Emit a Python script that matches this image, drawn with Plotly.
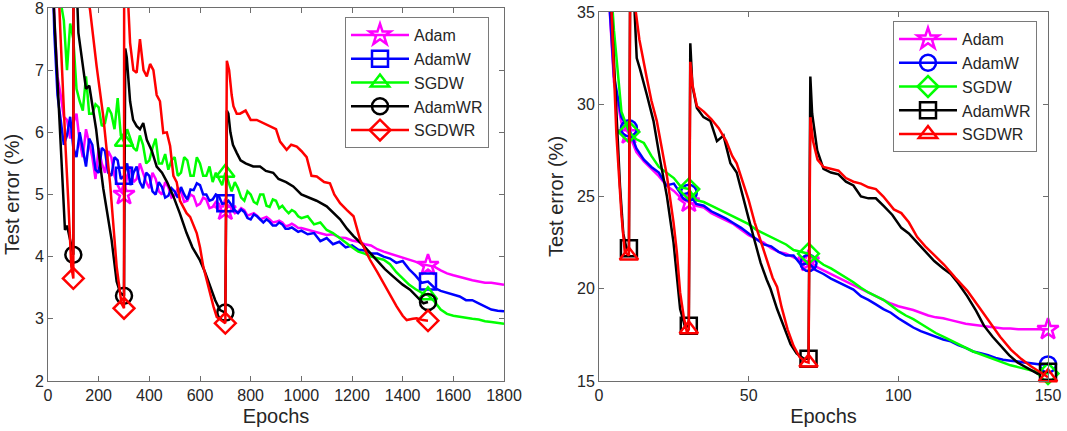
import plotly.graph_objects as go

# ---------------- Left panel data (epochs 0..1800) ----------------
# epochs: every 12.5 up to 987.5, then every 25 up to 1800
EP_L = [i * 12.5 for i in range(80)] + list(range(1000, 1801, 25))
ADAM_L = [15, 10, 7.8, 6.9, 6.6, 6.25, 6.2, 5.9, 6.15, 6.3, 5.85, 5.6, 6.05, 5.8, 5.6, 5.25,
          5.75, 5.5, 5.35, 5.7, 5.6, 5.3, 5.15, 5.05, 5.0, 5.3, 5.45, 5.2, 5.25, 5.5, 5.35, 5.2,
          5.1, 5.35, 5.25, 5.05, 5.0, 5.2, 5.12, 4.95, 4.98, 5.1, 5.05, 4.88, 4.9, 5.0, 4.97, 4.82,
          4.85, 4.95, 4.92, 4.78, 4.8, 4.88, 4.85, 4.72, 4.75, 4.82, 4.78, 4.7, 4.72, 4.78, 4.75,
          4.66, 4.68, 4.7, 4.66, 4.6, 4.62, 4.64, 4.6, 4.55, 4.56, 4.58, 4.55, 4.49, 4.5, 4.53,
          4.5, 4.46,
          4.46, 4.43, 4.41, 4.38, 4.35, 4.36, 4.31, 4.3, 4.26, 4.24, 4.2, 4.18, 4.12, 4.08, 4.05,
          4.02, 3.98, 3.95, 3.92, 3.88, 3.86, 3.84, 3.78, 3.73, 3.7, 3.67, 3.64, 3.62, 3.6, 3.58,
          3.58, 3.56, 3.55]
ADAMW_L = [15, 9.5, 7.6, 6.6, 6.2, 5.8, 5.95, 6.25, 5.75, 5.6, 6.0, 5.7, 5.45, 5.9, 5.8, 5.4,
           5.35, 5.75, 5.7, 5.35, 5.3, 5.6, 5.55, 5.25, 5.3, 5.5, 5.15, 5.35, 5.45, 5.2, 5.1, 5.35,
           5.3, 5.05, 5.0, 5.2, 5.12, 4.95, 4.98, 5.1, 5.05, 4.95, 5.12, 5.0, 4.92, 5.08, 5.07,
           5.18, 5.15, 5.0, 5.0, 4.9, 4.92, 5.0, 4.97, 4.85, 4.86, 4.9, 4.82, 4.75, 4.7, 4.76,
           4.72, 4.62, 4.6, 4.68, 4.65, 4.6, 4.55, 4.6, 4.56, 4.5, 4.5, 4.55, 4.52, 4.45, 4.45,
           4.47, 4.43, 4.4,
           4.42, 4.36, 4.38, 4.25, 4.3, 4.2, 4.24, 4.15, 4.18, 4.11, 4.1, 4.05, 4.05, 4.0, 3.97,
           3.9, 3.93, 3.8, 3.7, 3.58, 3.6, 3.5, 3.45, 3.42, 3.4, 3.36, 3.3, 3.3, 3.25, 3.2, 3.15,
           3.13, 3.12]
SGDW_L = [15, 11, 9.5, 8.6, 8.1, 7.8, 7.0, 7.75, 7.5, 6.7, 6.5, 6.35, 6.9, 6.3, 6.3, 6.45,
          6.4, 6.1, 6.15, 6.4, 6.3, 6.05, 6.55, 5.95, 5.85, 6.05, 5.9, 5.75, 5.7, 5.95, 5.8, 5.5,
          5.55, 5.75, 5.9, 5.5, 5.5, 5.65, 5.4, 5.55, 5.6, 5.3, 5.35, 5.6, 5.55, 5.3, 5.3, 5.6,
          5.5, 5.3, 5.3, 5.45, 5.2, 5.35, 5.25, 5.15, 5.35, 5.2, 5.05, 5.2, 5.1, 4.95, 4.9, 5.05,
          5.0, 4.88, 4.85, 5.0, 5.0, 4.82, 4.8, 4.92, 4.9, 4.78, 4.82, 4.75, 4.7, 4.75, 4.72,
          4.65,
          4.62, 4.65, 4.52, 4.55, 4.43, 4.38, 4.3, 4.22, 4.15, 4.08, 4.05, 4.0, 3.98, 3.95, 3.88,
          3.75, 3.65, 3.55, 3.48, 3.42, 3.38, 3.28, 3.15, 3.08, 3.05, 3.03, 3.02, 3.0, 2.99, 2.96,
          2.95, 2.93, 2.92]

EP_ADAMWR_L = [0, 20, 28, 40, 47, 57, 67, 75, 85, 92, 100, 101, 112, 120, 130, 138, 150, 163, 177,
               190, 204, 218, 232, 251, 271, 285, 300, 305, 311, 324, 336, 350, 363, 376, 390, 410,
               429, 450, 470, 495, 520, 547, 570, 600, 620, 640, 660, 679, 700, 706, 712, 720, 730,
               745, 760, 780, 810, 837, 860, 889, 910, 940, 968, 1000, 1034, 1060, 1100, 1126,
               1153, 1180, 1206, 1240, 1271, 1300, 1330, 1363, 1400, 1429, 1460, 1482, 1500]
ADAMWR_L = [15, 8.3, 7.6, 6.6, 6.0, 5.1, 4.43, 4.5, 4.3, 4.15, 4.03, 12, 8.5, 7.6, 7.3, 7.0,
            6.7, 6.75, 6.35, 6.05, 5.55, 5.1, 4.75, 4.27, 3.6, 3.42, 3.37, 7.35, 7.2, 6.5, 6.2,
            6.1, 6.05, 6.15, 5.88, 5.7, 5.45, 5.35, 5.2, 4.97, 4.7, 4.38, 4.15, 3.94, 3.75, 3.52,
            3.3, 3.14, 3.1, 6.35, 6.3, 6.0, 5.8, 5.67, 5.55, 5.5, 5.45, 5.45, 5.38, 5.35, 5.25,
            5.2, 5.13, 5.0, 4.95, 4.9, 4.81, 4.7, 4.6, 4.45, 4.33, 4.2, 4.06, 3.92, 3.8, 3.68,
            3.55, 3.47, 3.35, 3.25, 3.27]

EP_SGDWR_L = [0, 40, 50, 60, 70, 80, 92, 100, 101, 150, 166, 192, 218, 245, 271, 290, 300, 301,
              315, 324, 337, 350, 363, 377, 390, 403, 416, 429, 442, 455, 469, 482, 495, 508, 521,
              547, 561, 587, 600, 613, 627, 640, 653, 666, 685, 700, 706, 715, 725, 732, 745, 758,
              780, 800, 824, 850, 876, 900, 916, 942, 960, 982, 1000, 1021, 1040, 1061, 1090,
              1113, 1130, 1153, 1180, 1206, 1232, 1271, 1300, 1324, 1350, 1376, 1400, 1416, 1440,
              1455, 1480, 1500]
SGDWR_L = [15, 8.5, 7.5, 6.5, 5.7, 4.9, 3.84, 3.65, 12, 8.3, 7.97, 7.06, 6.26, 5.18, 3.84, 3.25,
           3.17, 12, 8.2, 7.44, 7.0, 6.96, 7.5, 7.0, 6.9, 7.1, 7.0, 6.6, 6.5, 5.99, 6.0, 5.78, 5.3,
           5.2, 4.9, 4.7, 4.64, 4.38, 4.15, 3.84, 3.6, 3.4, 3.2, 3.03, 2.97, 2.93, 7.15, 7.0, 6.6,
           6.42, 6.3, 6.3, 6.35, 6.2, 6.2, 6.15, 6.1, 6.05, 5.85, 5.72, 5.8, 5.77, 5.7, 5.6, 5.3,
           5.29, 5.2, 5.18, 5.0, 4.86, 4.75, 4.65, 4.27, 3.95, 3.75, 3.57, 3.38, 3.2, 3.05, 2.98,
           3.0, 3.01, 2.98, 2.97]
MARK_EP_L = [300, 700, 1500]          # Adam, AdamW, SGDW
MARK_EP_L_WR = [100, 300, 700, 1500]  # AdamWR, SGDWR

# ---------------- Right panel data (epochs 0..150) ----------------
EP_R = [i * 2.5 for i in range(61)]
ADAM_R = [50, 38, 31.2, 29.0, 28.4, 27.4, 26.9, 26.5, 26.1, 25.6, 25.3, 24.9, 24.7, 24.5, 24.4,
          24.1, 23.9, 23.7, 23.5, 23.2, 22.9, 22.7, 22.5, 22.2, 22.0, 21.9, 21.7, 21.5, 21.5, 21.2,
          21.0, 20.8, 20.6, 20.4, 20.2, 20.0, 19.8, 19.6, 19.4, 19.2, 19.05, 18.95, 18.85, 18.7,
          18.55, 18.45, 18.4, 18.3, 18.2, 18.1, 18.05, 18.0, 17.95, 17.9, 17.85, 17.85, 17.8,
          17.8, 17.8, 17.8, 17.8]
ADAMW_R = [50, 38, 31.5, 29.3, 28.7, 27.6, 27.0, 26.6, 26.3, 25.6, 25.7, 25.1, 25.2, 24.6, 24.5,
           24.2, 24.0, 23.8, 23.55, 23.3, 23.0, 22.7, 22.4, 22.3, 22.0, 21.8, 21.8, 21.3, 21.4,
           21.0, 20.8, 20.55, 20.35, 20.15, 19.95, 19.6, 19.4, 19.15, 18.9, 18.7, 18.4, 18.15,
           17.9, 17.7, 17.55, 17.4, 17.25, 17.15, 16.95, 16.8, 16.6, 16.5, 16.4, 16.25, 16.15,
           16.1, 16.05, 16.0, 15.95, 15.9, 15.9]
SGDW_R = [50, 40, 34, 29.6, 28.5, 28.1, 27.9, 27.2, 26.6, 26.3, 26.0, 25.5, 25.4, 24.8, 24.7,
          24.5, 24.3, 24.1, 23.9, 23.7, 23.5, 23.2, 23.0, 22.8, 22.6, 22.4, 22.1, 22.0, 21.9, 21.6,
          21.3, 21.1, 20.85, 20.6, 20.35, 20.05, 19.8, 19.6, 19.4, 19.1, 18.8, 18.55, 18.35, 18.1,
          17.85, 17.6, 17.4, 17.2, 17.0, 16.8, 16.6, 16.45, 16.3, 16.15, 16.0, 15.85, 15.75,
          15.65, 15.55, 15.45, 15.4]

EP_ADAMWR_R = [0, 3, 4.2, 5.9, 7, 8.1, 9.3, 10, 10.5, 12.6, 13.7, 16, 18.2, 20.4, 22.7, 24.9, 26,
               27.1, 28.8, 30, 30.5, 31.2, 32.7, 34.9, 37.2, 39.4, 41.6, 43.9, 46, 48, 50, 52, 54,
               56, 57.3, 59.5, 62, 64, 66, 68.4, 70, 70.6, 71.2, 72.9, 75, 77.5, 80, 82.5, 85,
               87.5, 90, 92.5, 95, 98, 101, 103.5, 106.3, 109, 112, 115, 117.5, 120, 123, 126,
               128.6, 131.5, 134.2, 137, 139.8, 143, 146.5, 150]
ADAMWR_R = [50, 40, 35, 29.2, 25.6, 23.0, 22.1, 22.2, 40, 32.5, 31.9, 30.5, 29.1, 27.0, 25.0,
            22.5, 20.7, 18.9, 17.9, 18.0, 33.3, 31.0, 29.8, 29.3, 29.1, 28.0, 28.3, 26.8, 26.3,
            25.0, 23.8, 22.6, 21.4, 20.5, 20.0, 18.9, 17.8, 17.0, 16.5, 16.2, 16.2, 31.5, 29.5,
            27.5, 26.5, 26.3, 26.2, 25.8, 25.6, 25.0, 24.9, 24.9, 24.5, 24.0, 23.3, 23.0, 22.5,
            22.0, 21.5, 21.1, 20.8, 20.3, 19.6, 18.8, 18.0, 17.4, 16.9, 16.4, 16.0, 15.7, 15.4,
            15.5]

EP_SGDWR_R = [0, 3, 4.2, 5.8, 7.5, 8.6, 10, 10.4, 11.5, 13.5, 16, 17.5, 19.3, 21, 22.7, 24.9, 26,
              27.1, 28.3, 29.4, 30, 30.5, 31.3, 32.7, 35, 37.5, 40, 42.5, 44.5, 46, 48, 50, 52,
              54, 56, 58, 59.5, 61, 63, 65, 67, 69, 70, 70.6, 71.5, 73, 75, 77.5, 80, 82.5, 85,
              87.5, 90, 92.5, 95, 98.5, 101, 103.5, 106.3, 109, 112, 115.3, 119, 123, 127, 130.9,
              134, 137.6, 141, 144.3, 148, 150]
SGDWR_R = [50, 40, 35, 28.4, 24.0, 22.0, 21.8, 36, 36, 33.5, 31.4, 30.2, 29.1, 27.6, 26.1, 23.6,
           22.0, 19.8, 18.5, 17.6, 17.8, 32.3, 31.0, 29.9, 29.6, 29.2, 28.7, 28.0, 27.2, 26.8,
           25.8, 24.8, 23.6, 22.6, 21.5, 20.6, 20.1, 19.0, 17.8, 16.9, 16.3, 16.05, 16.0, 29.3,
           28.0, 27.0, 26.6, 26.5, 26.4, 26.0, 25.8, 25.7, 25.5, 25.4, 25.0, 24.3, 24.1, 23.6,
           22.8, 22.3, 21.8, 21.3, 20.6, 19.9, 19.0, 18.1, 17.4, 16.7, 16.2, 15.8, 15.4, 15.2]
MARK_EP_R = [10, 30, 70, 150]

NAMES = ["Adam", "AdamW", "SGDW", "AdamWR", "SGDWR"]
COLORS = ["#FF00FF", "#0000FF", "#00FF00", "#000000", "#FF0000"]
SYMBOLS_L = ["star-open", "square-open", "triangle-up-open", "circle-open", "diamond-open"]
SYMBOLS_R = ["star-open", "circle-open", "diamond-open", "square-open", "triangle-up-open"]

left_series = [(EP_L, ADAM_L), (EP_L, ADAMW_L), (EP_L, SGDW_L),
               (EP_ADAMWR_L, ADAMWR_L), (EP_SGDWR_L, SGDWR_L)]
left_marks = [MARK_EP_L, MARK_EP_L, MARK_EP_L, MARK_EP_L_WR, MARK_EP_L_WR]
right_series = [(EP_R, ADAM_R), (EP_R, ADAMW_R), (EP_R, SGDW_R),
                (EP_ADAMWR_R, ADAMWR_R), (EP_SGDWR_R, SGDWR_R)]
right_marks = [MARK_EP_R] * 5

for xs, ys in left_series + right_series:
    assert len(xs) == len(ys), (len(xs), len(ys))

FONT = "Liberation Sans, Arial, sans-serif"
LW = 2.5
MS = 16

fig = go.Figure()


def add_panel(series, symbols, marks, xa, ya, legend):
    # MATLAB-like drawing order: each series' line then its markers
    for i, (xs, ys) in enumerate(series):
        fig.add_trace(go.Scatter(x=xs, y=ys, mode="lines", xaxis=xa, yaxis=ya,
                                 line=dict(color=COLORS[i], width=LW), showlegend=False,
                                 hoverinfo="skip"))
        mx, my = [], []
        for e in marks[i]:
            if e in xs:
                k = xs.index(e)
                mx.append(xs[k])
                my.append(ys[k])
        fig.add_trace(go.Scatter(x=mx, y=my, mode="markers", xaxis=xa, yaxis=ya,
                                 cliponaxis=False, showlegend=False,
                                 marker=dict(symbol=symbols[i], size=MS, color=COLORS[i],
                                             line=dict(width=2.5, color=COLORS[i]))))
    for i in range(len(series)):
        fig.add_trace(go.Scatter(x=[None], y=[None], mode="lines+markers", xaxis=xa, yaxis=ya,
                                 name=NAMES[i], legend=legend,
                                 line=dict(color=COLORS[i], width=LW),
                                 marker=dict(symbol=symbols[i], size=MS, color=COLORS[i],
                                             line=dict(width=2.5, color=COLORS[i]))))


add_panel(left_series, SYMBOLS_L, left_marks, "x", "y", "legend")
add_panel(right_series, SYMBOLS_R, right_marks, "x2", "y2", "legend2")

W, H = 1067, 431
axis_common = dict(showline=True, linecolor="#6e6e6e", linewidth=1, mirror="ticks",
                   ticks="inside", ticklen=5, tickwidth=1, tickcolor="#6e6e6e",
                   showgrid=False, zeroline=False, automargin=False,
                   ticklabeloverflow="allow",
                   tickfont=dict(family=FONT, size=16, color="#262626"))
title_font = dict(family=FONT, size=20, color="#262626")
legend_font = dict(family=FONT, size=16, color="#262626")

fig.update_layout(
    width=W, height=H, margin=dict(l=0, r=0, t=0, b=0),
    paper_bgcolor="white", plot_bgcolor="white",
    font=dict(family=FONT, color="#262626"),
    xaxis=dict(domain=[48 / W, 504 / W], range=[0, 1800],
               tickvals=[0, 200, 400, 600, 800, 1000, 1200, 1400, 1600, 1800],
               title=dict(text="Epochs", font=title_font, standoff=5), anchor="y", **axis_common),
    yaxis=dict(domain=[(H - 381) / H, (H - 8) / H], range=[2, 8],
               tickvals=[2, 3, 4, 5, 6, 7, 8],
               title=dict(text="Test error (%)", font=title_font, standoff=9), anchor="x",
               **axis_common),
    xaxis2=dict(domain=[599 / W, 1048 / W], range=[0, 150], tickvals=[0, 50, 100, 150],
                title=dict(text="Epochs", font=title_font, standoff=5), anchor="y2", **axis_common),
    yaxis2=dict(domain=[(H - 381) / H, (H - 12) / H], range=[15, 35],
                tickvals=[15, 20, 25, 30, 35],
                title=dict(text="Test error (%)", font=title_font, standoff=8), anchor="x2",
                **axis_common),
    legend=dict(x=345 / W, y=(H - 17) / H, xanchor="left", yanchor="top",
                bgcolor="white", bordercolor="#7a7a7a", borderwidth=1,
                font=legend_font, itemwidth=58, tracegroupgap=0),
    legend2=dict(x=893 / W, y=(H - 21) / H, xanchor="left", yanchor="top",
                 bgcolor="white", bordercolor="#7a7a7a", borderwidth=1,
                 font=legend_font, itemwidth=58, tracegroupgap=0),
)

fig.write_html("out.html", config={"displayModeBar": False},
               post_script="document.body.style.margin='0';document.body.style.overflow='hidden';")
